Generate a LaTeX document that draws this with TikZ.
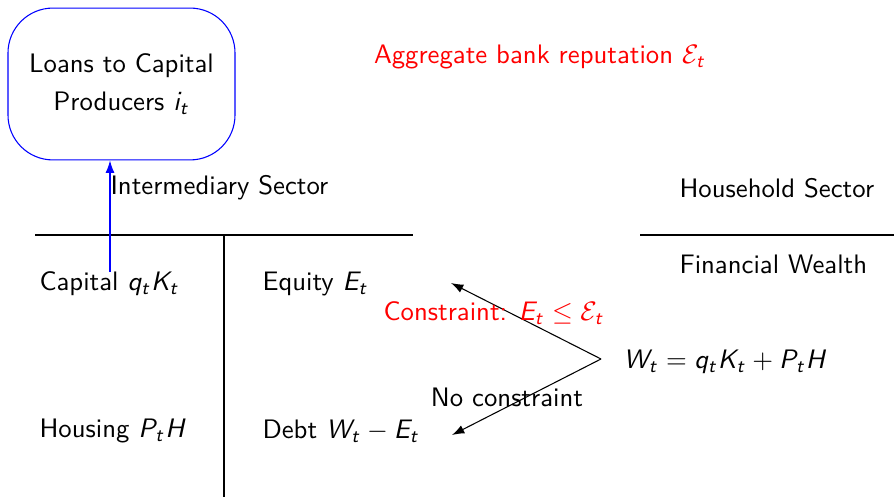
\documentclass[tikz,border=0pt]{standalone}
\usetikzlibrary{arrows.meta}
\renewcommand{\familydefault}{\sfdefault}
\DeclareSymbolFont{letters}{OT1}{cmss}{m}{sl}
\begin{document}
\begin{tikzpicture}[x=0.374pt,y=-0.374pt,
  lbl/.style={anchor=west,inner sep=0pt,font=\sffamily},
  ctr/.style={inner sep=0pt,font=\sffamily},
  arr/.style={-{Latex[length=4.6pt,width=3.3pt]}},
  rule/.style={line width=0.4pt}]
\useasboundingbox (0,0) rectangle (894,498);
\node[draw=blue,rounded corners=16.8pt,minimum width=84.9pt,minimum height=56.8pt,align=center,font=\sffamily,inner sep=0pt] (loans) at (121.5,84) {Loans to Capital\\[2pt]Producers $i_t$};
\node[ctr,text=red] (rep) at (540,57) {Aggregate bank reputation $\mathcal{E}_t$};
\node[lbl] (inter) at (110,188) {Intermediary Sector};
\node[lbl] (house) at (679,188) {Household Sector};
\coordinate (hl1) at (35,235);
\coordinate (hr1) at (413,235);
\coordinate (hl2) at (640,235);
\coordinate (hr2) at (894,235);
\coordinate (vt) at (224,235);
\coordinate (vb) at (224,497);
\draw[rule] (hl1) -- (hr1);
\draw[rule] (hl2) -- (hr2);
\draw[rule] (vt) -- (vb);
\node[lbl] (fin) at (679,264) {Financial Wealth};
\node[lbl] (cap) at (39,284) {Capital $q_tK_t$};
\node[lbl] (eq) at (262,284) {Equity $E_t$};
\node[lbl] (hous) at (39,431) {Housing $P_tH$};
\node[lbl] (debt) at (262,431) {Debt $W_t-E_t$};
\node[lbl] (w) at (623,362) {$W_t=q_tK_t+P_tH$};
\coordinate (wsrc) at (601,359);
\coordinate (eqt) at (451,283);
\coordinate (dbt) at (452,435);
\coordinate (capt) at (110,272);
\draw[arr] (wsrc) -- (eqt);
\draw[arr] (wsrc) -- (dbt);
\draw[arr,blue] (capt) -- (loans.south -| capt);
\node[ctr,text=red] (con) at (494,313) {Constraint: $E_t\le\mathcal{E}_t$};
\node[ctr] (nocon) at (507,397) {No constraint};
\end{tikzpicture}
\end{document}
